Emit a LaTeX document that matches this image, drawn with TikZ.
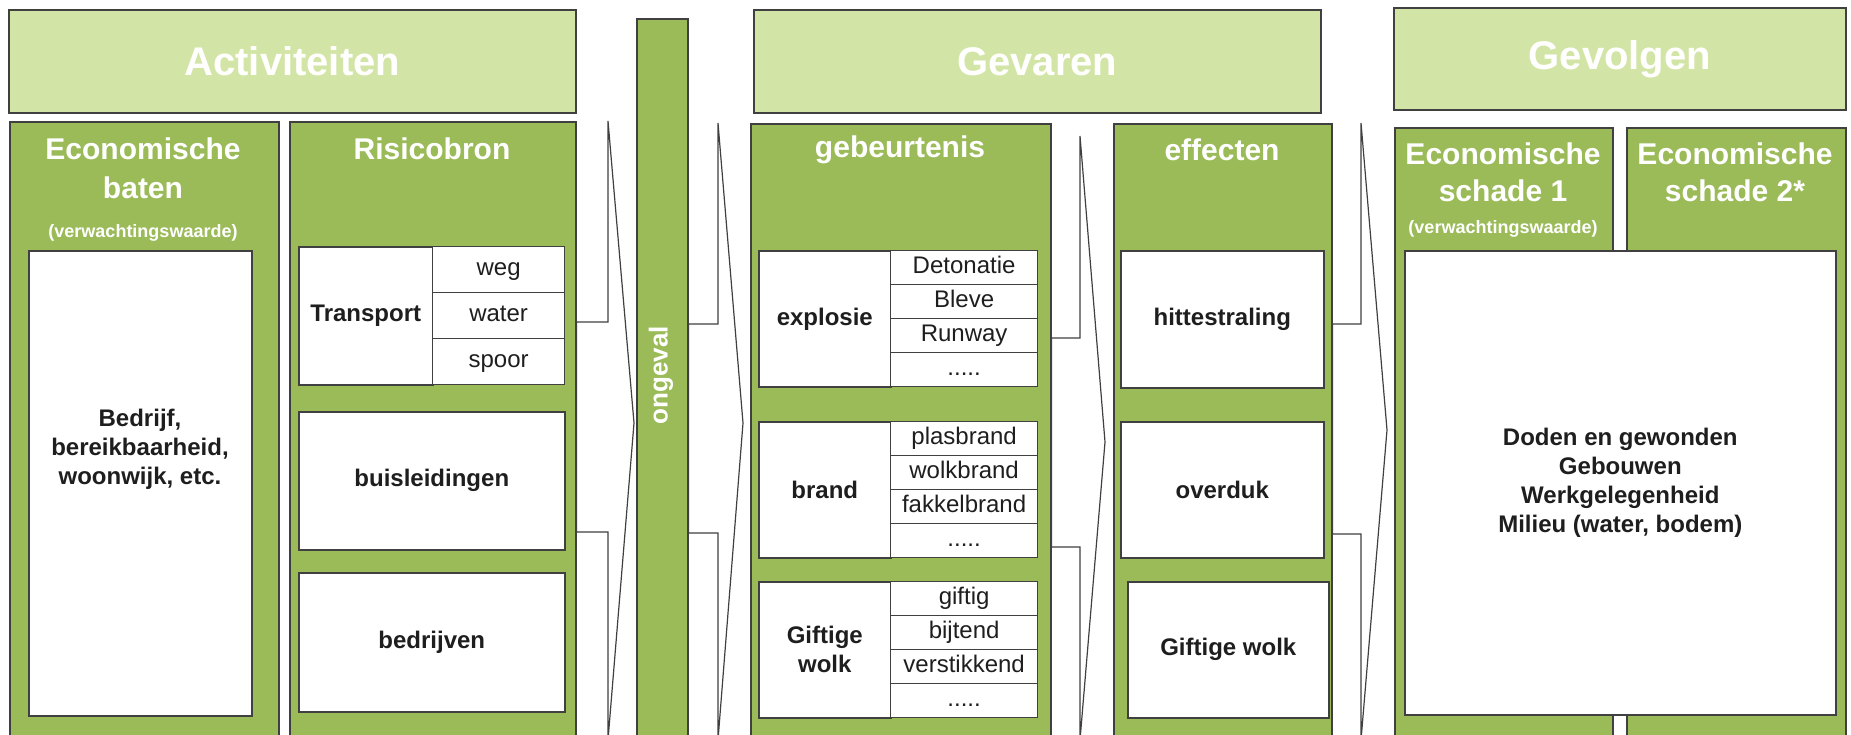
\documentclass[tikz,border=0pt]{standalone}
\usepackage{fontspec}
\setmainfont{Liberation Sans}
\usetikzlibrary{positioning}
\definecolor{kopgroen}{RGB}{211,229,166}
\definecolor{kolomgroen}{RGB}{155,187,89}
\definecolor{rand}{RGB}{64,64,64}
\definecolor{tekst}{RGB}{30,30,30}
\tikzstyle{kop}=[draw=rand, fill=kopgroen, line width=1.6pt, anchor=north west
,inner sep=0pt, text=white
,font=\fontsize{40}{44}\selectfont\bfseries
]
\tikzstyle{kolom}=[draw=rand, fill=kolomgroen, line width=1.6pt, anchor=north west, inner sep=0pt]
\tikzstyle{titel}=[text=white, inner sep=0pt, font=\fontsize{30}{33}\selectfont\bfseries]
\tikzstyle{sub}=[text=white, inner sep=0pt, font=\fontsize{18}{20}\selectfont\bfseries]
\tikzstyle{vak}=[draw=rand, fill=white, line width=1.6pt, anchor=north west
,inner sep=0pt, text=tekst, align=center
,font=\fontsize{24}{29}\selectfont\bfseries
]
\tikzstyle{cel}=[draw=rand, fill=white, line width=1.2pt, anchor=north west
,inner sep=0pt, text=tekst, text height=17pt, text depth=5pt
,font=\fontsize{24}{26}\selectfont
]
\tikzstyle{pijl}=[draw=rand, line width=1.2pt, fill=white]
\newcommand{\punten}{.....}

\begin{document}
\begin{tikzpicture}[x=1pt,y=-1pt]
    \useasboundingbox (0,0) rectangle (1851,734);
    \clip (0,0) rectangle (1851,734);
    % Koppen boven de kolommen
    \foreach \pos/\w/\h/\name/\txt in {{(8,9)/567/103/act/Activiteiten}, {(753,9)/567/103/gev/Gevaren}, {(1393,7)/452/102/gevo/Gevolgen}}
        \node[kop, minimum width=\w pt, minimum height=\h pt] (\name) at \pos {\txt};

    % De ongeval balk en de kolommen
    \node[kolom, minimum width=51pt, minimum height=730pt] (balk) at (636,18) {};
    \node[titel, rotate=90, font=\fontsize{26}{28}\selectfont\bfseries] (ongeval) at (661,375) {ongeval};
    \foreach \pos/\w/\name in {{(9,121)/269/baten}, {(289,121)/286/risico}, {(750,123)/300/gebeurt}, {(1113,123)/218/effect}, {(1394,127)/218/schade1}, {(1626,127)/219/schade2}}
        \node[kolom, minimum width=\w pt, minimum height=640pt] (\name) at \pos {};

    % Kolomtitels
    \node[titel] (baten1) at (143,149) {Economische};
    \node[titel] (baten2) at (143,188) {baten};
    \node[sub] (baten3) at (143,233) {(verwachtingswaarde)};
    \node[titel] (risico1) at (432,149) {Risicobron};
    \node[titel] (gebeurt1) at (900,150) {gebeurtenis};
    \node[titel] (effect1) at (1222,150) {effecten};
    \node[titel] (schade11) at (1503,154) {Economische};
    \node[titel] (schade12) at (1503,191) {schade 1};
    \node[sub] (schade13) at (1503,229) {(verwachtingswaarde)};
    \node[titel] (schade21) at (1735,154) {Economische};
    \node[titel] (schade22) at (1735,191) {schade 2*};

    % Witte vakken
    \node[vak, minimum width=223pt, minimum height=465pt] (batenvak) at (28,250) {};
    \node[vak, anchor=center, draw=none, fill=none] (batentekst) at (140,449) {Bedrijf,\\bereikbaarheid,\\woonwijk, etc.};
    \node[vak, minimum width=266pt, minimum height=138pt] (buis) at (298,411) {buisleidingen};
    \node[vak, minimum width=266pt, minimum height=139pt] (bedrijf) at (298,572) {bedrijven};
    \node[vak, minimum width=203pt, minimum height=137pt] (hitte) at (1120,250) {hittestraling};
    \node[vak, minimum width=203pt, minimum height=136pt] (overduk) at (1120,421) {overduk};
    \node[vak, minimum width=201pt, minimum height=136pt] (giftig) at (1127,581) {Giftige wolk};
    \node[vak, minimum width=431pt, minimum height=464pt] (gevolgvak) at (1404,250) {Doden en gewonden\\Gebouwen\\Werkgelegenheid\\Milieu (water, bodem)};

    % Tabellen met onderverdeling
    \node[vak, minimum width=134pt, minimum height=138pt] (transport) at (298,246) {Transport};
    \foreach \txt [count=\i from 0] in {weg,water,spoor}
        \node[cel, minimum width=132pt, minimum height=46pt] (transport\i) at (432,246+46*\i) {\txt};
    \foreach \y/\name/\txt/\lijst in {250/explosie/explosie/{Detonatie,Bleve,Runway,\punten}, 421/brand/brand/{plasbrand,wolkbrand,fakkelbrand,\punten}, 581/wolk/{Giftige\\wolk}/{giftig,bijtend,verstikkend,\punten}}
    {
        \node[vak, minimum width=132pt, minimum height=136pt] (\name) at (758,\y) {\txt};
        \foreach \item [count=\i from 0] in \lijst
            \node[cel, minimum width=147pt, minimum height=34pt] (\name\i) at (890,\y+34*\i) {\item};
    }

    % Pijlvormen tussen de kolommen
    \foreach \bron/\xt/\yt/\xp/\yp/\ya/\yb in {risico/608/121/634/423/322/532, balk/718/123/743/423/324/533, gebeurt/1080/136/1105/442/338/547, effect/1361/123/1387/430/324/534}
        \draw[pijl] (\xt,\yt) -- (\xp,\yp) -- (\xt,740) -- (\xt,\yb) -- (\bron.east |- 0,\yb) -- (\bron.east |- 0,\ya) -- (\xt,\ya) -- cycle;
\end{tikzpicture}
\end{document}
